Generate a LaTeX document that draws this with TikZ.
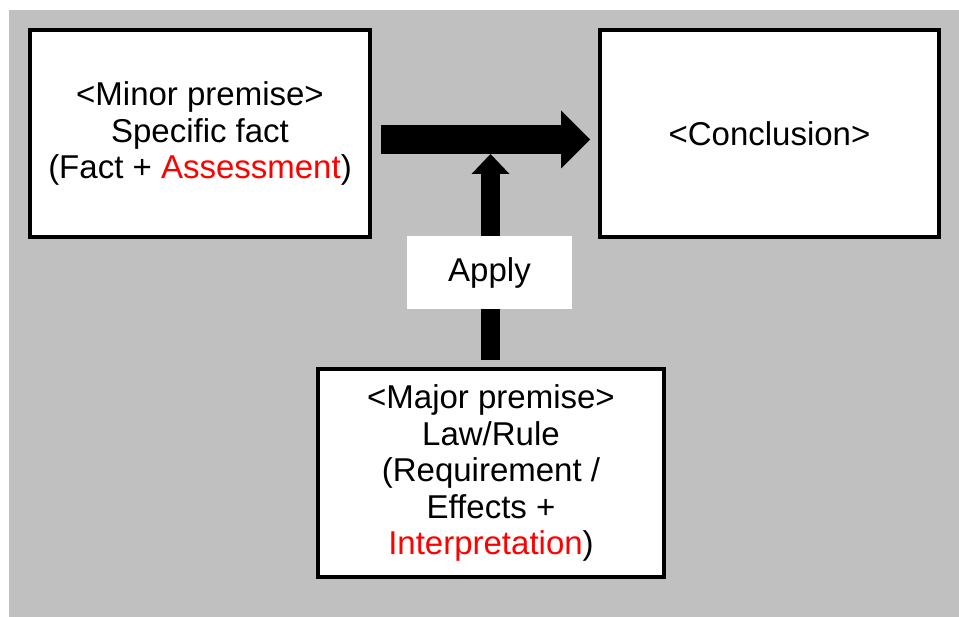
\documentclass[tikz,border=0pt]{standalone}
\usepackage{fontspec}
\setmainfont{Liberation Sans}
\usetikzlibrary{positioning,arrows.meta,calc}
\definecolor{bggray}{RGB}{192,192,192}

\begin{document}
\begin{tikzpicture}[x=1pt,y=-1pt,
    premise/.style={draw,line width=4pt,fill=white,align=center,inner sep=0pt,
        font=\fontsize{33}{36.5}\selectfont},
    bigarrow/.style={line width=#1}]
    \useasboundingbox (0,0) rectangle (959,617);
    \fill[bggray] (9,10) rectangle (959,617);
    % the three premise boxes
    \node[premise,minimum width=340pt,minimum height=207pt] (minor) at (200,133.5)
        {<Minor premise>\\Specific fact\\(Fact + \textcolor{red}{Assessment})};
    \node[premise,minimum width=339pt,minimum height=207pt] (concl) at (769.5,133.5)
        {<Conclusion>};
    \node[premise,minimum width=346pt,minimum height=208pt] (major) at (491,473)
        {<Major premise>\\Law/Rule\\(Requirement /\\Effects +\\\textcolor{red}{Interpretation})};
    \coordinate (join) at (490.5,154);
    % arrows
    \draw[bigarrow=29pt,-{Triangle[length=29pt,width=58pt,line width=0pt]}]
        ($(minor.east)+(9,6)$) -- ($(concl.west)+(-8,6)$);
    \draw[bigarrow=19pt,-{Triangle[length=20pt,width=38pt,line width=0pt]}]
        ($(major.north)+(-0.5,-7)$) -- (join);
    \node[fill=white,minimum width=165pt,minimum height=73pt,inner sep=0pt,
        font=\fontsize{33}{36.5}\selectfont] (apply) at (489.5,273) {Apply};
\end{tikzpicture}
\end{document}
